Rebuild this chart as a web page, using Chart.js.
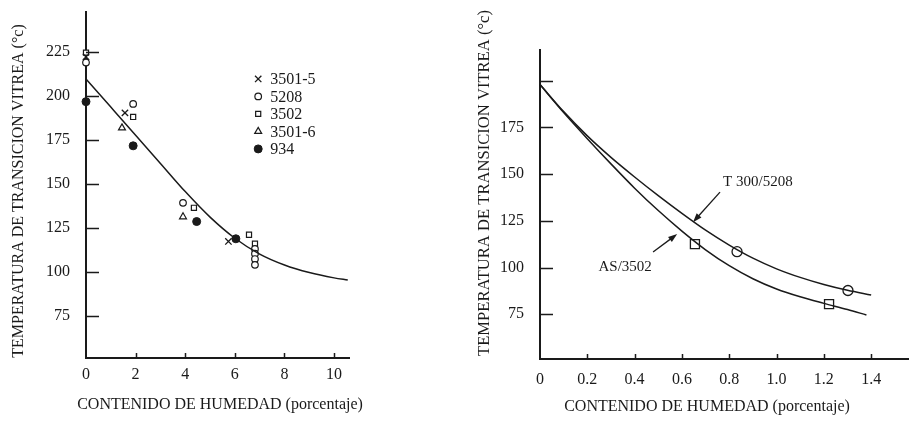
<!DOCTYPE html>
<html>
<head>
<meta charset="utf-8">
<title>Temperatura de transicion vitrea</title>
<script src="https://cdn.jsdelivr.net/npm/chart.js@4.4.1/dist/chart.umd.min.js"></script>
<style>
  html, body { margin: 0; padding: 0; background: #fff; }
  #wrap { position: relative; width: 909px; height: 425px; overflow: hidden; }
  canvas { position: absolute; top: 0; }
  #tgMoisture { left: 0; }
  #tgFits { left: 455px; }
</style>
</head>
<body>
<div id="wrap">
  <canvas id="tgMoisture" width="455" height="425"></canvas>
  <canvas id="tgFits" width="454" height="425"></canvas>
</div>
<script>
// ---- left panel: Tg against moisture for several resin systems ----
const moistTicksA = [0, 2, 4, 6, 8, 10];
const tgTicksA = [75, 100, 125, 150, 175, 200, 225];

const trendX = [0, 1, 2, 3, 4, 5, 6, 7, 8, 9, 10, 10.55];
const trendTg = [209.5, 193.5, 177.5, 161.5, 145.5, 131, 119, 110, 103.8, 99.5, 96.5, 95.3];

const x3501_5 = [0, 1.57, 5.74];
const tg3501_5 = [222, 190.2, 117.2];
const x5208 = [0, 1.9, 3.91, 6.81, 6.81, 6.81, 6.81];
const tg5208 = [218.8, 195.3, 139.1, 112.9, 110.2, 107.2, 103.9];
const x3502 = [0, 1.9, 4.35, 6.57, 6.81];
const tg3502 = [224.4, 187.9, 136.3, 121, 115.9];
const x3501_6 = [1.45, 3.91];
const tg3501_6 = [181.7, 131.2];
const x934 = [0, 1.9, 4.46, 6.04];
const tg934 = [196.6, 171.5, 128.5, 118.7];

// ---- right panel: fitted curves for two laminates ----
const moistTicksB = [0, 0.2, 0.4, 0.6, 0.8, 1.0, 1.2, 1.4];
const moistLabelsB = ['0', '0.2', '0.4', '0.6', '0.8', '1.0', '1.2', '1.4'];
const tgTicksB = [75, 100, 125, 150, 175, 200];
const tgLabelsB = ['75', '100', '125', '150', '175', ''];

const curveXT300 = [0, 0.1, 0.2, 0.3, 0.4, 0.5, 0.6, 0.7, 0.8, 0.9, 1.0, 1.1, 1.2, 1.3, 1.4];
const curveT300 = [198, 183.5, 170.5, 159, 148.5, 138.5, 129, 120, 112, 105, 99.3, 94.7, 90.9, 87.8, 85.3];
const curveXAS = [0, 0.1, 0.2, 0.3, 0.4, 0.5, 0.6, 0.7, 0.8, 0.9, 1.0, 1.1, 1.2, 1.3, 1.38];
const curveAS = [198, 183, 169, 155.5, 142.5, 130.5, 119.5, 109.5, 101, 94, 88.5, 84.3, 80.8, 77.5, 74.6];
const testXT300 = [0.833, 1.302];
const testT300 = [108.5, 87.7];
const testXAS = [0.655, 1.222];
const testAS = [112.5, 80.4];

const ink = '#1a1a1a';
const serif = '"Liberation Serif", "Times New Roman", serif';

const marks = {
  cross:  { pointStyle: 'crossRot', radius: 4.5, borderWidth: 1.3, fill: ink },
  open:   { pointStyle: 'circle', radius: 3.3, borderWidth: 1.2, fill: '#fff' },
  square: { pointStyle: 'rect', radius: 3.6, borderWidth: 1.2, fill: '#fff' },
  tri:    { pointStyle: 'triangle', radius: 4, borderWidth: 1.2, fill: '#fff' },
  dot:    { pointStyle: 'circle', radius: 4, borderWidth: 1, fill: ink },
  bigOpen:   { pointStyle: 'circle', radius: 5, borderWidth: 1.3, fill: '#fff' },
  bigSquare: { pointStyle: 'rect', radius: 6.4, borderWidth: 1.3, fill: '#fff' }
};

function pts(xs, ys) {
  return xs.map((v, i) => ({ x: v, y: ys[i] }));
}

function markerSet(label, xs, ys, m) {
  return {
    label: label,
    data: pts(xs, ys),
    showLine: false,
    pointStyle: m.pointStyle,
    pointRadius: m.radius,
    pointBorderWidth: m.borderWidth,
    pointBorderColor: ink,
    pointBackgroundColor: m.fill,
    borderColor: ink,
    backgroundColor: m.fill,
    clip: false
  };
}

function curveSet(label, xs, ys) {
  return {
    label: label,
    data: pts(xs, ys),
    showLine: true,
    pointRadius: 0,
    borderColor: ink,
    borderWidth: 1.5,
    cubicInterpolationMode: 'monotone',
    clip: false
  };
}

// same shapes as chart.js draws them, used for the hand-made legend
function drawMarker(ctx, m, px, py) {
  const r = m.radius;
  ctx.save();
  ctx.lineWidth = m.borderWidth;
  ctx.strokeStyle = ink;
  ctx.fillStyle = m.fill;
  ctx.beginPath();
  if (m.pointStyle === 'crossRot') {
    const d = r * Math.SQRT1_2;
    ctx.moveTo(px - d, py - d); ctx.lineTo(px + d, py + d);
    ctx.moveTo(px + d, py - d); ctx.lineTo(px - d, py + d);
    ctx.stroke();
  } else if (m.pointStyle === 'rect') {
    const s = r * Math.SQRT1_2;
    ctx.rect(px - s, py - s, 2 * s, 2 * s);
    ctx.fill(); ctx.stroke();
  } else if (m.pointStyle === 'triangle') {
    for (let k = 0; k < 3; k++) {
      const a = k * 2 * Math.PI / 3;
      const vx = px + Math.sin(a) * r, vy = py - Math.cos(a) * r;
      if (k === 0) ctx.moveTo(vx, vy); else ctx.lineTo(vx, vy);
    }
    ctx.closePath();
    ctx.fill(); ctx.stroke();
  } else {
    ctx.arc(px, py, r, 0, 2 * Math.PI);
    ctx.fill(); ctx.stroke();
  }
  ctx.restore();
}

function arrow(ctx, x0, y0, x1, y1) {
  const ang = Math.atan2(y1 - y0, x1 - x0);
  const len = 9, half = 3.2;
  ctx.beginPath();
  ctx.moveTo(x0, y0);
  ctx.lineTo(x1 - Math.cos(ang) * len * 0.8, y1 - Math.sin(ang) * len * 0.8);
  ctx.stroke();
  ctx.beginPath();
  ctx.moveTo(x1, y1);
  ctx.lineTo(x1 - Math.cos(ang) * len - Math.sin(ang) * half, y1 - Math.sin(ang) * len + Math.cos(ang) * half);
  ctx.lineTo(x1 - Math.cos(ang) * len + Math.sin(ang) * half, y1 - Math.sin(ang) * len - Math.cos(ang) * half);
  ctx.closePath();
  ctx.fill();
}

// inward ticks, axis titles, legend and callouts
function paperOverlay(cfg) {
  return {
    id: 'paperOverlay',
    afterDraw(chart) {
      const { ctx, chartArea: a } = chart;
      const sx = chart.scales.x, sy = chart.scales.y;
      ctx.save();
      ctx.strokeStyle = ink;
      ctx.fillStyle = ink;
      ctx.lineWidth = 1.5;
      ctx.beginPath();
      sy.ticks.forEach(t => {
        const py = Math.round(sy.getPixelForValue(t.value)) + 0.5;
        ctx.moveTo(a.left, py);
        ctx.lineTo(a.left + 13, py);
      });
      sx.ticks.forEach(t => {
        if (t.value === 0) return;
        const px = Math.round(sx.getPixelForValue(t.value)) + 0.5;
        ctx.moveTo(px, a.bottom);
        ctx.lineTo(px, a.bottom - 5);
      });
      ctx.stroke();

      ctx.textAlign = 'center';
      ctx.textBaseline = 'middle';
      ctx.font = cfg.yTitleSize + 'px ' + serif;
      ctx.save();
      ctx.translate(cfg.yTitleAt[0], cfg.yTitleAt[1]);
      ctx.rotate(-Math.PI / 2);
      ctx.fillText('TEMPERATURA DE TRANSICION VITREA (°c)', 0, 0);
      ctx.restore();
      ctx.font = '16px ' + serif;
      ctx.fillText('CONTENIDO DE HUMEDAD (porcentaje)', cfg.xTitleAt[0], cfg.xTitleAt[1]);

      if (cfg.legend) {
        const lx = sx.getPixelForValue(cfg.legend.x);
        const ly = sy.getPixelForValue(cfg.legend.y);
        ctx.font = '16px ' + serif;
        ctx.textAlign = 'left';
        cfg.legend.items.forEach((it, i) => {
          const py = ly + i * 17.5;
          drawMarker(ctx, it.mark, lx, py);
          ctx.fillStyle = ink;
          ctx.fillText(it.label, lx + 12, py + 1);
        });
      }

      (cfg.notes || []).forEach(n => {
        ctx.font = '15px ' + serif;
        ctx.textAlign = n.align;
        ctx.fillText(n.text, sx.getPixelForValue(n.at[0]), sy.getPixelForValue(n.at[1]));
        ctx.lineWidth = 1.3;
        arrow(ctx,
          sx.getPixelForValue(n.from[0]), sy.getPixelForValue(n.from[1]),
          sx.getPixelForValue(n.to[0]), sy.getPixelForValue(n.to[1]));
      });
      ctx.restore();
    }
  };
}

function scales(o) {
  return {
    x: {
      type: 'linear',
      min: o.xMin, max: o.xMax,
      afterBuildTicks: s => { s.ticks = o.xTicks.map(v => ({ value: v })); },
      afterFit: s => { s.height = o.xHeight; s.paddingLeft = 0; s.paddingRight = 0; },
      grid: { display: false, drawTicks: false },
      border: { display: true, color: ink, width: 2 },
      ticks: {
        color: ink, font: { family: serif, size: 16 }, padding: o.xPad,
        maxRotation: 0, autoSkip: false,
        callback: (v, i) => o.xLabels ? o.xLabels[i] : String(v)
      }
    },
    y: {
      type: 'linear',
      min: o.yMin, max: o.yMax,
      afterBuildTicks: s => { s.ticks = o.yTicks.map(v => ({ value: v })); },
      afterFit: s => { s.width = o.yWidth; s.paddingTop = 0; s.paddingBottom = 0; },
      grid: { display: false, drawTicks: false },
      border: { display: true, color: ink, width: 2 },
      ticks: {
        color: ink, font: { family: serif, size: 16 }, padding: 16, autoSkip: false,
        callback: (v, i) => o.yLabels ? o.yLabels[i] : String(v)
      }
    }
  };
}

new Chart(document.getElementById('tgMoisture'), {
  type: 'scatter',
  data: {
    datasets: [
      curveSet('ajuste', trendX, trendTg),
      markerSet('3501-5', x3501_5, tg3501_5, marks.cross),
      markerSet('5208', x5208, tg5208, marks.open),
      markerSet('3502', x3502, tg3502, marks.square),
      markerSet('3501-6', x3501_6, tg3501_6, marks.tri),
      markerSet('934', x934, tg934, marks.dot)
    ]
  },
  options: {
    responsive: false,
    animation: false,
    layout: { autoPadding: false, padding: { left: 0, top: 12, right: 106, bottom: 0 } },
    plugins: { legend: { display: false }, tooltip: { enabled: false } },
    scales: scales({
      xMin: 0, xMax: 10.6, xTicks: moistTicksA, xHeight: 67, xPad: 7,
      yMin: 51, yMax: 247.5, yTicks: tgTicksA, yWidth: 86
    })
  },
  plugins: [paperOverlay({
    yTitleSize: 16, yTitleAt: [19, 191], xTitleAt: [220, 405],
    legend: {
      x: 6.94, y: 209.5,
      items: [
        { label: '3501-5', mark: marks.cross },
        { label: '5208', mark: marks.open },
        { label: '3502', mark: marks.square },
        { label: '3501-6', mark: marks.tri },
        { label: '934', mark: marks.dot }
      ]
    }
  })]
});

new Chart(document.getElementById('tgFits'), {
  type: 'scatter',
  data: {
    datasets: [
      curveSet('T 300/5208', curveXT300, curveT300),
      curveSet('AS/3502', curveXAS, curveAS),
      markerSet('T 300/5208 ensayo', testXT300, testT300, marks.bigOpen),
      markerSet('AS/3502 ensayo', testXAS, testAS, marks.bigSquare)
    ]
  },
  options: {
    responsive: false,
    animation: false,
    layout: { autoPadding: false, padding: { left: 0, top: 50, right: 0, bottom: 0 } },
    plugins: { legend: { display: false }, tooltip: { enabled: false } },
    scales: scales({
      xMin: 0, xMax: 1.56, xTicks: moistTicksB, xLabels: moistLabelsB, xHeight: 66, xPad: 11,
      yMin: 51, yMax: 216.5, yTicks: tgTicksB, yLabels: tgLabelsB, yWidth: 85
    })
  },
  plugins: [paperOverlay({
    yTitleSize: 16.6, yTitleAt: [30, 183], xTitleAt: [252, 407],
    notes: [
      { text: 'T 300/5208', align: 'left', at: [0.774, 145.7], from: [0.761, 140.4], to: [0.647, 124.3] },
      { text: 'AS/3502', align: 'center', at: [0.36, 100.3], from: [0.478, 108.3], to: [0.58, 117.9] }
    ]
  })]
});
</script>
</body>
</html>
